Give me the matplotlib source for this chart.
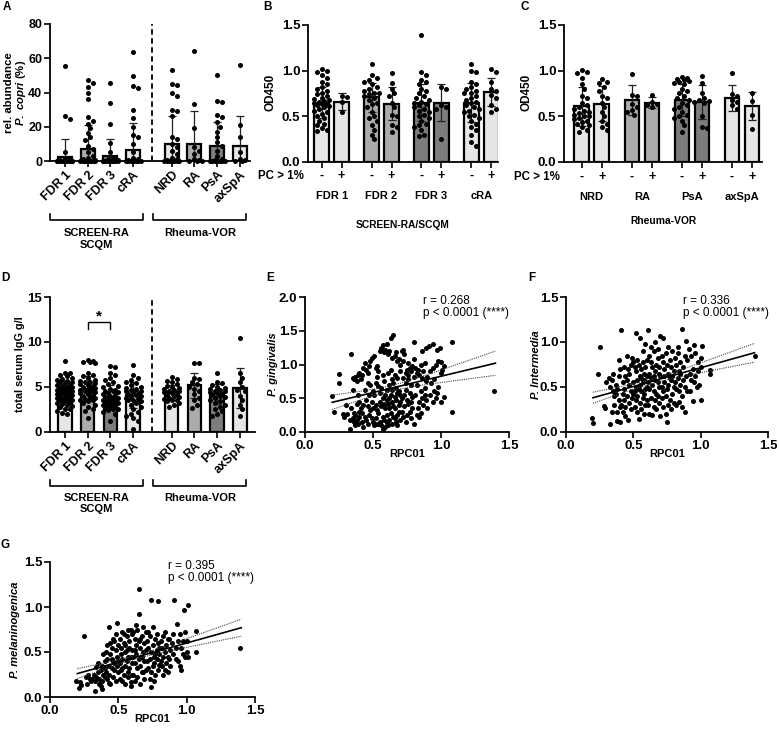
import numpy as np
import matplotlib
matplotlib.use('Agg')
import matplotlib.pyplot as plt
from matplotlib.lines import Line2D
import matplotlib.transforms as mtrans

plt.rcParams['font.family'] = ['Liberation Sans', 'DejaVu Sans']
plt.rcParams['font.weight'] = 'bold'
plt.rcParams['axes.labelweight'] = 'bold'
plt.rcParams['mathtext.fontset'] = 'custom'
plt.rcParams['mathtext.it'] = 'Liberation Sans:italic:bold'
plt.rcParams['mathtext.rm'] = 'Liberation Sans:bold'
plt.rcParams['mathtext.bf'] = 'Liberation Sans:bold'

# ---------------- DATA ----------------
LIGHT, MID, DARK = '#e6e6e6', '#ababab', '#7d7d7d'

grp_A = ['FDR 1', 'FDR 2', 'FDR 3', 'cRA', 'NRD', 'RA', 'PsA', 'axSpA']
col_A = [LIGHT, MID, DARK, LIGHT, LIGHT, MID, DARK, LIGHT]

A_mean = [2.5, 7.2, 3.2, 6.7, 9.7, 10.0, 8.5, 9.0]
A_sd = [10.3, 13.8, 9.8, 15.3, 16.5, 19.0, 14.0, 17.0]
A_pts = [
    [55.5, 26.5, 24.5, 5.0, 1.5, 1.0, 0.5, 0.3, 0.2, 0.1, 0.1, 0, 0, 0, 0, 0, 0, 0, 0, 0],
    [47.5, 45.5, 43.0, 40.0, 36.0, 25.5, 23.5, 21.5, 19.0, 16.5, 14.0, 12.5, 9.0, 7.0, 5.0, 3.0, 2.0, 1.0, 0.5, 0.2, 0.1, 0, 0, 0, 0, 0, 0, 0, 0, 0],
    [45.5, 34.0, 21.5, 10.5, 5.0, 2.5, 1.0, 0.5, 0.2, 0.1, 0, 0, 0, 0, 0, 0, 0, 0],
    [63.5, 49.5, 44.0, 42.5, 29.5, 25.0, 20.0, 15.0, 14.0, 10.0, 5.0, 2.0, 1.0, 0.5, 0.2, 0, 0, 0, 0, 0, 0, 0],
    [53.0, 45.0, 44.5, 39.5, 38.0, 30.0, 29.0, 26.0, 14.0, 13.0, 10.0, 8.0, 6.0, 4.0, 2.0, 1.0, 0.5, 0.2, 0, 0, 0, 0, 0, 0, 0, 0],
    [64.0, 33.0, 19.5, 8.0, 6.0, 4.0, 1.0, 0.5, 0, 0, 0],
    [50.0, 35.0, 34.5, 27.0, 25.5, 22.5, 20.0, 17.0, 14.0, 11.0, 9.0, 6.0, 3.0, 1.0, 0.5, 0, 0, 0, 0, 0, 0, 0, 0],
    [56.0, 21.0, 14.0, 5.0, 1.0, 0.5, 0, 0],
]

B_groups = ['FDR 1', 'FDR 2', 'FDR 3', 'cRA']
B_cols = [LIGHT, LIGHT, MID, MID, DARK, DARK, LIGHT, LIGHT]
B_mean = [0.65, 0.66, 0.71, 0.64, 0.65, 0.65, 0.65, 0.77]
B_sd = [0.17, 0.09, 0.16, 0.18, 0.205, 0.205, 0.215, 0.155]
B_pts = [
    [1.02, 1.0, 0.98, 0.95, 0.92, 0.88, 0.85, 0.82, 0.80, 0.78, 0.76, 0.74, 0.72, 0.70, 0.69, 0.68, 0.67, 0.66, 0.65, 0.64, 0.63, 0.62, 0.61, 0.60, 0.58, 0.56, 0.55, 0.53, 0.50, 0.48, 0.45, 0.42, 0.40, 0.37, 0.35, 0.34],
    [0.72, 0.71, 0.66, 0.55],
    [1.07, 0.95, 0.92, 0.90, 0.88, 0.85, 0.82, 0.80, 0.78, 0.76, 0.75, 0.74, 0.72, 0.70, 0.68, 0.65, 0.63, 0.60, 0.55, 0.50, 0.48, 0.45, 0.40, 0.35, 0.30, 0.25],
    [0.97, 0.86, 0.80, 0.75, 0.72, 0.65, 0.60, 0.52, 0.50, 0.40, 0.38, 0.33],
    [1.39, 0.98, 0.95, 0.90, 0.88, 0.85, 0.80, 0.78, 0.75, 0.72, 0.70, 0.68, 0.66, 0.65, 0.64, 0.62, 0.60, 0.58, 0.56, 0.55, 0.52, 0.50, 0.48, 0.45, 0.42, 0.40, 0.38, 0.35, 0.30, 0.28],
    [0.82, 0.80, 0.62, 0.60, 0.58, 0.25],
    [1.07, 1.0, 0.98, 0.88, 0.85, 0.82, 0.80, 0.78, 0.76, 0.75, 0.72, 0.70, 0.68, 0.66, 0.65, 0.62, 0.60, 0.58, 0.56, 0.55, 0.52, 0.50, 0.48, 0.45, 0.42, 0.38, 0.35, 0.30, 0.22, 0.18],
    [1.02, 0.99, 0.88, 0.80, 0.78, 0.73, 0.70, 0.62, 0.58, 0.55],
]

C_groups = ['NRD', 'RA', 'PsA', 'axSpA']
C_cols = [LIGHT, LIGHT, MID, MID, DARK, DARK, LIGHT, LIGHT]
C_mean = [0.61, 0.64, 0.68, 0.65, 0.68, 0.66, 0.70, 0.61]
C_sd = [0.215, 0.195, 0.16, 0.06, 0.175, 0.185, 0.145, 0.155]
C_pts = [
    [1.01, 0.99, 0.97, 0.92, 0.85, 0.80, 0.72, 0.70, 0.65, 0.62, 0.60, 0.58, 0.56, 0.55, 0.54, 0.52, 0.50, 0.50, 0.48, 0.47, 0.45, 0.44, 0.42, 0.40, 0.38, 0.35, 0.33],
    [0.91, 0.88, 0.86, 0.82, 0.78, 0.72, 0.70, 0.65, 0.60, 0.55, 0.50, 0.45, 0.42, 0.38, 0.35],
    [0.96, 0.73, 0.72, 0.63, 0.60, 0.57, 0.55, 0.52],
    [0.73, 0.66, 0.64, 0.62, 0.60],
    [0.93, 0.92, 0.91, 0.90, 0.89, 0.88, 0.87, 0.85, 0.80, 0.78, 0.75, 0.72, 0.70, 0.68, 0.65, 0.62, 0.60, 0.58, 0.55, 0.52, 0.50, 0.48, 0.45, 0.40, 0.33],
    [0.94, 0.86, 0.75, 0.70, 0.68, 0.67, 0.66, 0.65, 0.50, 0.38, 0.37],
    [0.97, 0.74, 0.72, 0.68, 0.66, 0.62, 0.58],
    [0.76, 0.67, 0.52, 0.36],
]

D_mean = [4.5, 4.8, 3.9, 4.1, 4.4, 5.2, 4.2, 4.9]
D_sd = [1.2, 1.4, 1.3, 1.4, 0.8, 1.4, 1.1, 2.2]
D_pts = [
    [7.9, 6.6, 6.5, 6.3, 6.2, 6.0, 5.9, 5.8, 5.7, 5.6, 5.5, 5.4, 5.3, 5.2, 5.1, 5.0, 5.0, 4.9, 4.8, 4.8, 4.7, 4.6, 4.6, 4.5, 4.5, 4.4, 4.3, 4.3, 4.2, 4.2, 4.1, 4.0, 4.0, 3.9, 3.8, 3.8, 3.7, 3.6, 3.5, 3.5, 3.4, 3.3, 3.2, 3.1, 3.0, 2.9, 2.8, 2.6, 2.5, 2.3, 2.1, 2.0],
    [8.0, 7.9, 7.8, 7.8, 7.7, 6.5, 6.3, 6.2, 6.0, 5.8, 5.7, 5.6, 5.5, 5.4, 5.3, 5.2, 5.1, 5.0, 5.0, 4.9, 4.8, 4.7, 4.6, 4.5, 4.5, 4.4, 4.3, 4.2, 4.1, 4.0, 3.9, 3.8, 3.7, 3.6, 3.5, 3.4, 3.2, 3.0, 2.8, 2.5, 2.3, 1.5],
    [7.3, 7.2, 6.6, 6.3, 6.0, 5.8, 5.5, 5.3, 5.1, 5.0, 4.8, 4.7, 4.6, 4.5, 4.4, 4.3, 4.2, 4.1, 4.0, 3.9, 3.8, 3.7, 3.6, 3.5, 3.5, 3.4, 3.3, 3.2, 3.1, 3.0, 3.0, 2.9, 2.8, 2.7, 2.6, 2.5, 2.4, 2.2, 2.0, 1.2],
    [7.5, 6.3, 6.0, 5.8, 5.6, 5.4, 5.2, 5.0, 4.9, 4.8, 4.7, 4.6, 4.5, 4.4, 4.3, 4.2, 4.1, 4.0, 3.9, 3.8, 3.7, 3.6, 3.5, 3.4, 3.2, 3.0, 2.8, 2.5, 2.2, 2.0, 1.8, 1.5, 1.2, 0.3],
    [6.1, 5.9, 5.7, 5.5, 5.3, 5.1, 5.0, 4.9, 4.8, 4.7, 4.6, 4.5, 4.4, 4.3, 4.2, 4.1, 4.0, 3.9, 3.8, 3.7, 3.6, 3.5, 3.4, 3.2, 3.0, 2.8],
    [7.7, 7.7, 6.0, 5.9, 5.5, 5.3, 5.0, 4.8, 4.5, 4.2, 3.8, 3.5, 3.0, 2.7],
    [6.5, 5.5, 5.4, 5.2, 5.0, 4.9, 4.8, 4.7, 4.6, 4.5, 4.4, 4.3, 4.2, 4.1, 4.0, 3.9, 3.8, 3.6, 3.4, 3.2, 3.0, 2.8, 2.5, 2.3, 2.0, 1.8],
    [10.4, 6.5, 6.0, 5.5, 5.0, 4.7, 4.5, 4.0, 3.5, 3.0, 2.5, 1.8],
]

E_xy = [(0.20,0.53),(0.21,0.30),(0.25,0.86),(0.25,0.72),(0.28,0.27),(0.29,0.22),(0.30,0.40),
(0.33,0.05),(0.34,1.15),(0.35,0.80),(0.36,0.78),(0.37,0.82),(0.38,0.75),(0.39,0.84),(0.40,0.88),(0.35,0.20),(0.36,0.15),(0.37,0.25),(0.38,0.18),(0.39,0.12),(0.40,0.22),(0.34,0.35),(0.36,0.28),(0.38,0.42),(0.40,0.30),(0.33,0.18),(0.37,0.10),(0.31,0.26),(0.39,0.55),(0.35,0.62),(0.40,0.45),
(0.41,0.78),(0.42,0.85),(0.43,0.95),(0.44,1.02),(0.45,0.92),(0.46,0.88),(0.47,0.98),(0.48,1.05),(0.49,1.10),(0.42,0.15),(0.43,0.08),(0.44,0.22),(0.45,0.18),(0.46,0.12),(0.47,0.25),(0.48,0.32),(0.49,0.20),(0.50,0.15),(0.41,0.35),(0.43,0.40),(0.45,0.48),(0.46,0.38),(0.47,0.55),(0.49,0.45),(0.50,0.60),(0.44,0.62),(0.48,0.70),(0.42,0.28),(0.50,0.35),(0.46,0.72),
(0.51,1.12),(0.52,0.95),(0.53,0.98),(0.54,0.90),(0.55,1.20),(0.56,1.25),(0.57,1.29),(0.58,1.18),(0.59,1.22),(0.60,1.30),(0.52,0.72),(0.54,0.68),(0.56,0.65),(0.58,0.75),(0.60,0.62),(0.51,0.10),(0.52,0.20),(0.53,0.12),(0.54,0.28),(0.55,0.15),(0.56,0.10),(0.57,0.22),(0.58,0.18),(0.59,0.08),(0.60,0.14),(0.52,0.40),(0.53,0.33),(0.55,0.45),(0.56,0.38),(0.57,0.50),(0.58,0.42),(0.59,0.35),(0.60,0.48),(0.51,0.55),(0.55,0.58),(0.59,0.55),(0.54,0.12),(0.57,0.05),(0.60,0.25),(0.53,0.82),(0.57,0.85),
(0.61,1.15),(0.62,1.20),(0.63,1.39),(0.64,1.10),(0.65,1.44),(0.66,1.12),(0.67,1.18),(0.68,1.05),(0.69,1.08),(0.70,1.00),(0.61,0.88),(0.63,0.92),(0.64,0.78),(0.66,0.85),(0.68,0.80),(0.70,0.90),(0.62,0.70),(0.65,0.72),(0.67,0.65),(0.69,0.60),(0.61,0.10),(0.62,0.18),(0.63,0.28),(0.64,0.12),(0.65,0.22),(0.66,0.35),(0.67,0.15),(0.68,0.25),(0.69,0.40),(0.70,0.18),(0.61,0.42),(0.62,0.50),(0.63,0.55),(0.64,0.45),(0.65,0.38),(0.66,0.52),(0.67,0.48),(0.68,0.58),(0.69,0.30),(0.70,0.45),(0.62,0.35),(0.66,0.20),(0.70,0.55),(0.64,0.62),(0.68,0.10),
(0.71,1.20),(0.72,1.22),(0.73,1.15),(0.74,0.88),(0.75,0.92),(0.76,0.85),(0.77,0.95),(0.78,0.90),(0.79,0.98),(0.80,1.34),(0.72,0.80),(0.74,0.72),(0.76,0.78),(0.78,0.70),(0.80,0.82),(0.71,0.30),(0.72,0.22),(0.73,0.38),(0.74,0.15),(0.75,0.25),(0.76,0.42),(0.77,0.30),(0.78,0.20),(0.79,0.35),(0.80,0.12),(0.71,0.50),(0.73,0.55),(0.75,0.48),(0.77,0.58),(0.79,0.52),(0.72,1.05),(0.76,1.02),(0.80,1.08),(0.74,0.62),(0.78,0.45),
(0.81,0.95),(0.82,0.88),(0.83,0.92),(0.84,0.85),(0.85,1.00),(0.86,0.80),(0.87,0.90),(0.88,1.02),(0.89,0.75),(0.90,0.82),(0.82,0.25),(0.83,0.35),(0.84,0.45),(0.85,0.28),(0.86,0.50),(0.87,0.40),(0.88,0.55),(0.89,0.48),(0.90,0.35),(0.81,0.55),(0.85,0.60),(0.88,0.65),(0.84,0.22),(0.86,1.20),(0.89,1.25),(0.82,0.70),
(0.91,1.27),(0.94,1.31),(0.97,1.22),(0.99,1.24),(0.92,0.90),(0.94,0.95),(0.96,1.00),(0.98,1.05),(1.00,1.04),(1.02,0.98),(0.93,0.72),(0.95,0.78),(0.98,0.67),(1.00,0.87),(0.92,0.55),(0.94,0.45),(0.96,0.50),(1.02,0.52),(1.00,0.45),(0.97,0.58),(1.08,1.34),(1.08,0.29),(1.39,0.61),(0.95,0.60),(1.01,0.92)]

F_xy = [(0.19,0.16),(0.20,0.10),(0.25,0.94),(0.24,0.64),(0.28,0.29),(0.29,0.27),(0.30,0.55),
(0.33,0.09),(0.32,0.60),(0.34,0.58),(0.35,0.45),(0.36,0.40),(0.37,0.52),(0.38,0.48),(0.39,0.80),(0.40,0.70),(0.34,0.22),(0.36,0.30),(0.38,0.22),(0.39,0.35),(0.40,0.28),(0.40,0.11),(0.35,0.65),(0.37,0.42),(0.33,0.50),(0.39,0.62),(0.38,0.12),
(0.41,1.13),(0.42,0.55),(0.43,0.48),(0.44,0.62),(0.45,0.58),(0.46,0.70),(0.47,0.65),(0.48,0.75),(0.49,0.82),(0.50,0.78),(0.41,0.30),(0.42,0.22),(0.43,0.35),(0.44,0.28),(0.45,0.40),(0.46,0.13),(0.47,0.32),(0.48,0.45),(0.49,0.38),(0.50,0.42),(0.44,0.18),(0.48,0.25),(0.43,0.72),(0.47,0.52),(0.50,0.55),(0.45,0.85),(0.42,0.42),
(0.52,1.10),(0.51,0.72),(0.52,0.68),(0.53,0.80),(0.54,0.75),(0.55,0.62),(0.56,0.70),(0.57,0.78),(0.58,0.65),(0.59,0.72),(0.60,0.80),(0.51,0.45),(0.52,0.50),(0.53,0.40),(0.54,0.48),(0.55,0.52),(0.56,0.45),(0.57,0.55),(0.58,0.42),(0.59,0.48),(0.60,0.50),(0.51,0.28),(0.53,0.22),(0.54,0.14),(0.55,0.32),(0.56,0.25),(0.57,0.38),(0.58,0.20),(0.59,0.30),(0.60,0.35),(0.55,1.05),(0.57,0.90),(0.59,0.98),(0.53,0.58),(0.56,0.60),(0.60,0.62),(0.52,0.35),(0.58,0.58),
(0.61,1.13),(0.62,0.85),(0.63,0.78),(0.64,0.72),(0.65,0.90),(0.66,0.68),(0.67,0.75),(0.68,0.82),(0.69,0.65),(0.70,1.07),(0.61,0.55),(0.62,0.48),(0.63,0.60),(0.64,0.52),(0.65,0.45),(0.66,0.58),(0.67,0.42),(0.68,0.55),(0.69,0.50),(0.70,0.62),(0.61,0.30),(0.62,0.20),(0.63,0.38),(0.64,0.19),(0.65,0.28),(0.66,0.35),(0.67,0.25),(0.68,0.40),(0.69,0.32),(0.70,0.18),(0.63,0.95),(0.66,1.00),(0.68,0.92),(0.65,0.62),(0.69,0.72),(0.62,0.65),
(0.72,1.05),(0.71,0.85),(0.72,0.78),(0.73,0.70),(0.74,0.88),(0.75,0.75),(0.76,0.65),(0.77,0.80),(0.78,0.72),(0.79,0.90),(0.80,0.68),(0.71,0.50),(0.72,0.45),(0.73,0.55),(0.74,0.40),(0.75,0.48),(0.76,0.52),(0.77,0.35),(0.78,0.58),(0.79,0.42),(0.80,0.50),(0.72,0.28),(0.74,0.20),(0.75,0.11),(0.76,0.30),(0.78,0.25),(0.80,0.32),(0.73,0.62),(0.77,0.60),(0.79,0.62),(0.76,0.95),(0.71,0.38),
(0.81,0.82),(0.82,0.75),(0.83,0.88),(0.84,0.68),(0.85,0.78),(0.86,1.14),(0.87,0.72),(0.88,0.85),(0.89,1.01),(0.90,0.80),(0.81,0.55),(0.82,0.48),(0.83,0.60),(0.84,0.45),(0.85,0.52),(0.86,0.40),(0.87,0.58),(0.88,0.50),(0.89,0.62),(0.90,0.45),(0.82,0.30),(0.84,0.33),(0.86,0.28),(0.88,0.22),(0.83,0.95),(0.85,0.65),
(0.91,0.92),(0.93,0.85),(0.95,0.97),(0.96,0.88),(0.98,0.78),(1.00,0.82),(1.01,0.96),(0.92,0.65),(0.94,0.70),(0.96,0.62),(0.98,0.68),(1.00,0.72),(0.92,0.45),(0.94,0.34),(0.95,0.55),(0.97,0.50),(0.99,0.52),(1.00,0.35),(1.07,0.69),(1.07,0.65),(1.40,0.85),(0.93,0.58)]

G_xy = [(0.19,0.18),(0.21,0.10),(0.25,0.68),(0.23,0.13),(0.26,0.22),(0.28,0.25),(0.29,0.20),(0.30,0.18),(0.27,0.15),(0.22,0.17),
(0.33,0.07),(0.38,0.09),(0.31,0.20),(0.32,0.25),(0.33,0.18),(0.34,0.22),(0.35,0.28),(0.36,0.20),(0.37,0.30),(0.38,0.35),(0.39,0.25),(0.40,0.40),(0.35,0.38),(0.36,0.15),(0.37,0.12),(0.39,0.48),(0.40,0.32),(0.34,0.33),(0.38,0.18),(0.40,0.22),
(0.43,0.78),(0.41,0.50),(0.42,0.42),(0.43,0.35),(0.44,0.48),(0.45,0.55),(0.46,0.40),(0.47,0.62),(0.48,0.52),(0.49,0.45),(0.50,0.58),(0.41,0.28),(0.42,0.20),(0.43,0.25),(0.44,0.15),(0.45,0.32),(0.46,0.22),(0.47,0.30),(0.48,0.18),(0.49,0.35),(0.50,0.28),(0.49,0.82),(0.46,0.65),(0.44,0.60),(0.48,0.70),(0.42,0.58),(0.50,0.40),(0.45,0.42),(0.47,0.38),(0.43,0.16),
(0.51,0.65),(0.52,0.55),(0.53,0.72),(0.54,0.60),(0.55,0.50),(0.56,0.68),(0.57,0.45),(0.58,0.62),(0.59,0.75),(0.60,0.52),(0.51,0.38),(0.52,0.30),(0.53,0.42),(0.54,0.25),(0.55,0.35),(0.56,0.40),(0.57,0.28),(0.58,0.32),(0.59,0.45),(0.60,0.38),(0.51,0.20),(0.53,0.18),(0.55,0.15),(0.57,0.22),(0.59,0.17),(0.60,0.25),(0.52,0.48),(0.56,0.52),(0.58,0.55),(0.54,0.70),(0.57,0.75),(0.60,0.70),(0.55,0.58),(0.53,0.32),(0.59,0.12),
(0.65,1.20),(0.65,0.92),(0.61,0.72),(0.62,0.65),(0.63,0.58),(0.64,0.75),(0.65,0.62),(0.66,0.55),(0.67,0.68),(0.68,0.50),(0.69,0.60),(0.70,0.72),(0.61,0.45),(0.62,0.38),(0.63,0.48),(0.64,0.32),(0.65,0.42),(0.66,0.35),(0.67,0.45),(0.68,0.28),(0.69,0.40),(0.70,0.52),(0.61,0.25),(0.62,0.18),(0.64,0.22),(0.66,0.15),(0.67,0.28),(0.69,0.20),(0.70,0.30),(0.63,0.80),(0.68,0.78),(0.66,0.65),(0.62,0.52),
(0.74,1.08),(0.79,1.07),(0.74,0.11),(0.71,0.62),(0.72,0.55),(0.73,0.68),(0.74,0.50),(0.75,0.58),(0.76,0.45),(0.77,0.65),(0.78,0.52),(0.79,0.60),(0.80,0.48),(0.71,0.40),(0.72,0.32),(0.73,0.42),(0.74,0.28),(0.75,0.35),(0.76,0.38),(0.77,0.25),(0.78,0.42),(0.79,0.30),(0.80,0.36),(0.72,0.72),(0.75,0.78),(0.78,0.70),(0.73,0.20),(0.76,0.18),(0.80,0.55),(0.77,0.48),
(0.81,0.62),(0.82,0.55),(0.83,0.68),(0.84,0.50),(0.85,0.58),(0.86,0.45),(0.87,0.65),(0.88,0.52),(0.89,0.60),(0.90,0.70),(0.81,0.40),(0.82,0.35),(0.83,0.45),(0.84,0.30),(0.85,0.38),(0.86,0.28),(0.87,0.42),(0.88,0.35),(0.90,0.48),(0.84,0.72),(0.86,0.65),(0.83,0.25),
(0.91,1.08),(0.93,0.81),(1.01,1.02),(0.98,0.97),(0.92,0.55),(0.94,0.62),(0.95,0.70),(0.96,0.55),(0.97,0.62),(0.99,0.72),(1.00,0.62),(1.01,0.45),(0.92,0.42),(0.94,0.40),(0.95,0.35),(0.97,0.48),(0.99,0.45),(1.07,0.73),(1.07,0.50),(1.39,0.55),(1.00,0.50),(0.96,0.30)]

# regression: slope, intercept, x-range, band half-width params (h0, k, xm)
E_fit = dict(slope=0.483, icpt=0.343, x0=0.2, x1=1.4, h0=0.04, k=0.228, xm=0.63, r='r = 0.268')
F_fit = dict(slope=0.417, icpt=0.297, x0=0.2, x1=1.4, h0=0.025, k=0.132, xm=0.63, r='r = 0.336')
G_fit = dict(slope=0.425, icpt=0.175, x0=0.2, x1=1.4, h0=0.02, k=0.12, xm=0.63, r='r = 0.395')
p_text = 'p < 0.0001 (****)'

# ---------------- LAYOUT HELPERS ----------------
W, H = 779, 733
TICK = 9.5      # tick label size
ROT = 9.0       # rotated category labels

fig = plt.figure(figsize=(W / 100, H / 100), dpi=100)


def px_axes(l, t, r, b):
    return fig.add_axes([l / W, 1 - b / H, (r - l) / W, (b - t) / H])


def ftext(x, y, s, **kw):
    kw.setdefault('ha', 'center')
    kw.setdefault('va', 'center')
    return fig.text(x / W, 1 - y / H, s, **kw)


def fline(xs, ys, lw=1.2):
    fig.add_artist(Line2D([x / W for x in xs], [1 - y / H for y in ys],
                          color='black', lw=lw, transform=fig.transFigure))


def style(ax, fs=TICK):
    for s in ['top', 'right']:
        ax.spines[s].set_visible(False)
    for s in ['left', 'bottom']:
        ax.spines[s].set_linewidth(1.3)
    ax.tick_params(direction='out', length=4, width=1.2, labelsize=fs, pad=1.5)


def swarm_x(vals, center, xu, yu, d=5.0, maxoff=0.38):
    placed = []
    xs = []
    step = d * 0.5
    n = int(maxoff * xu / step)
    cands = [0.0]
    for k in range(1, n + 1):
        cands += [k * step, -k * step]
    for v in vals:
        yp = v * yu
        chosen, bestc, bestd = None, 0.0, -1
        for c in cands:
            md = min([np.hypot(c - px, yp - py) for px, py in placed] or [1e9])
            if md >= d * 0.95:
                chosen = c
                break
            if md > bestd:
                bestd, bestc = md, c
        if chosen is None:
            chosen = bestc
        placed.append((chosen, yp))
        xs.append(center + chosen / xu)
    return xs


def bar_panel(ax, pos, means, sds, cols, pts, width, xu, yu):
    for p, m, e, c, vals in zip(pos, means, sds, cols, pts):
        ax.bar(p, m, width=width, color=c, edgecolor='black', linewidth=1.6, zorder=2)
        ax.errorbar(p, m, yerr=e, fmt='none', ecolor='#222222', elinewidth=0.9,
                    capsize=3, capthick=0.9, zorder=3)
        xs = swarm_x(vals, p, xu, yu)
        ax.scatter(xs, vals, s=13, color='black', zorder=4, clip_on=False, linewidths=0)


# ---------------- PANEL A ----------------
posA = [0, 1, 2, 3, 4.7, 5.7, 6.7, 7.7]
axA = px_axes(50, 24, 250, 161)
style(axA)
axA.tick_params(axis='y', labelsize=9)
axA.set_xlim(-0.66, 8.15)
axA.set_ylim(0, 80)
bar_panel(axA, posA, A_mean, A_sd, col_A, A_pts, 0.62, 22.7, 137 / 80)
axA.axvline(3.85, color='black', lw=1.3, ls=(0, (3, 2)), zorder=1)
axA.set_yticks([0, 20, 40, 60, 80])
axA.set_xticks(posA)
axA.set_xticklabels(grp_A, rotation=45, ha='right', rotation_mode='anchor', fontsize=ROT)
ftext(9.5, 93, 'rel. abundance', rotation=90, fontsize=8.2)
ftext(21, 93, '$P.\\ copri$ (%)', rotation=90, fontsize=8.2)

# group brackets under A and D
for yb in (220, 486):
    fline([50, 50, 143, 143], [yb - 6, yb, yb, yb - 6])
    fline([153, 153, 246, 246], [yb - 6, yb, yb, yb - 6])
ftext(96.5, 233, 'SCREEN-RA', fontsize=8)
ftext(96.5, 245, 'SCQM', fontsize=8)
ftext(200, 233, 'Rheuma-VOR', fontsize=8)
ftext(96.5, 498, 'SCREEN-RA', fontsize=8)
ftext(96.5, 509, 'SCQM', fontsize=8)
ftext(200, 498, 'Rheuma-VOR', fontsize=8)

# ---------------- PANELS B, C ----------------
posBC = [0, 1, 2.5, 3.5, 5, 6, 7.5, 8.5]
signs = ['-', '+'] * 4


def od_panel(l, t, r, b, xlim, means, sds, cols, pts, groups, title, title_y, pc_y):
    ax = px_axes(l, t, r, b)
    style(ax)
    ax.set_xlim(*xlim)
    ax.set_ylim(0, 1.5)
    bar_panel(ax, posBC, means, sds, cols, pts, 0.72, 20.0, 137 / 1.5)
    ax.set_yticks([0, 0.5, 1.0, 1.5])
    ax.set_yticklabels(['0.0', '0.5', '1.0', '1.5'])
    ax.set_xticks(posBC)
    ax.set_xticklabels([])
    tr = mtrans.blended_transform_factory(ax.transData, fig.transFigure)
    for p, s in zip(posBC, signs):
        ax.text(p, 1 - pc_y / H, s, transform=tr, ha='center', va='center', fontsize=9)
    for i, g in enumerate(groups):
        ax.text((posBC[2 * i] + posBC[2 * i + 1]) / 2, 1 - (pc_y + 20) / H, g,
                transform=tr, ha='center', va='center', fontsize=8)
    ftext(l - 4, pc_y, 'PC > 1%', ha='right', fontsize=8.3)
    ftext((l + r) / 2, title_y, title, fontsize=7.4)
    ftext(l - 38, 92, 'OD450', rotation=90, fontsize=8.5)
    return ax


axB = od_panel(308, 25, 498, 162, (-0.68, 8.83), B_mean, B_sd, B_cols, B_pts,
               B_groups, 'SCREEN-RA/SCQM', 225, 176)
axC = od_panel(564, 25, 762, 162, (-0.88, 9.0), C_mean, C_sd, C_cols, C_pts,
               C_groups, 'Rheuma-VOR', 221, 177)

# ---------------- PANEL D ----------------
axD = px_axes(50, 297, 255, 432)
style(axD)
axD.set_xlim(-0.66, 8.37)
axD.set_ylim(0, 15)
bar_panel(axD, posA, D_mean, D_sd, col_A, D_pts, 0.6, 22.7, 135 / 15)
axD.axvline(3.85, color='black', lw=1.3, ls=(0, (3, 2)), zorder=1)
axD.set_yticks([0, 5, 10, 15])
axD.set_xticks(posA)
axD.set_xticklabels(grp_A, rotation=45, ha='right', rotation_mode='anchor', fontsize=ROT)
axD.plot([1, 1, 2, 2], [11.4, 12.2, 12.2, 11.4], color='black', lw=1.0, zorder=5)
axD.text(1.5, 12.8, '*', ha='center', va='center', fontsize=11)
ftext(20, 364, 'total serum IgG g/l', rotation=90, fontsize=7.8)


# ---------------- PANELS E, F, G ----------------
def scatter_panel(l, t, r, b, xy, fit, ymax, yticks, ylab, ylab_x, r_pos):
    ax = px_axes(l, t, r, b)
    style(ax)
    ax.set_xlim(0, 1.5)
    ax.set_ylim(0, ymax)
    xs = [p[0] for p in xy]
    ys = [p[1] for p in xy]
    ax.scatter(xs, ys, s=13, color='black', linewidths=0, clip_on=False, zorder=3)
    xl = np.linspace(fit['x0'], fit['x1'], 100)
    yl = fit['slope'] * xl + fit['icpt']
    hw = np.sqrt(fit['h0'] ** 2 + fit['k'] ** 2 * (xl - fit['xm']) ** 2)
    ax.plot(xl, yl, color='black', lw=1.2, zorder=4)
    ax.plot(xl, yl + hw, color='#444444', lw=0.8, ls=(0, (1, 1)), zorder=4)
    ax.plot(xl, yl - hw, color='#444444', lw=0.8, ls=(0, (1, 1)), zorder=4)
    ax.set_xticks([0, 0.5, 1.0, 1.5])
    ax.set_xticklabels(['0.0', '0.5', '1.0', '1.5'])
    ax.set_yticks(yticks)
    ax.set_yticklabels(['%.1f' % v for v in yticks])
    ax.text(r_pos[0], r_pos[1], fit['r'], ha='left', va='center', fontsize=8.5,
            fontweight='normal')
    ax.text(r_pos[0], r_pos[2], p_text, ha='left', va='center', fontsize=8.5,
            fontweight='normal')
    ftext((l + r) / 2, b + 22, 'RPC01', fontsize=8)
    ftext(ylab_x, (t + b) / 2, ylab, rotation=90, fontsize=8, fontstyle='italic')
    return ax


scatter_panel(305, 297, 509, 432, E_xy, E_fit, 2.0, [0, 0.5, 1.0, 1.5, 2.0],
              'P. gingivalis', 273, (0.87, 1.94, 1.76))
scatter_panel(566, 297, 768, 432, F_xy, F_fit, 1.5, [0, 0.5, 1.0, 1.5],
              'P. Intermedia', 536, (0.87, 1.46, 1.32))
scatter_panel(50, 562, 255, 697, G_xy, G_fit, 1.5, [0, 0.5, 1.0, 1.5],
              'P. melaninogenica', 15, (0.86, 1.46, 1.32))

# ---------------- PANEL LETTERS ----------------
for s, x, y in [('A', 7, 7), ('B', 268, 7), ('C', 525, 7), ('D', 5, 278),
                ('E', 270, 278), ('F', 532, 278), ('G', 5, 545)]:
    ftext(x, y, s, fontsize=8.5)

fig.savefig('out.png', dpi=100)
